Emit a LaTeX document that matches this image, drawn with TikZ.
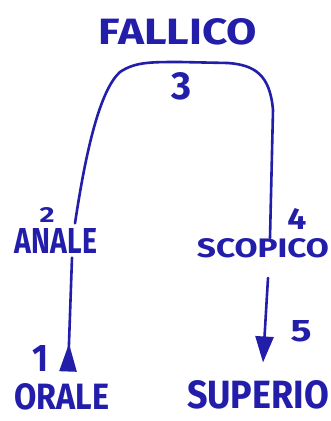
\documentclass[tikz,border=0pt]{standalone}
\usepackage{fontspec}
\setmainfont{Fira Sans}
\usetikzlibrary{arrows.meta}
\definecolor{pen}{RGB}{35,30,170}
\tikzset{
  lbl/.style={text=pen,inner sep=0pt,font=\bfseries},
  pencil/.style={draw=pen,line width=2.6pt,line cap=round,line join=round},
}
\newcommand{\fit}[3]{\resizebox{#1pt}{#2pt}{#3}}
\begin{document}
\begin{tikzpicture}[x=1pt,y=-1pt]
\useasboundingbox[fill=white] (0,0) rectangle (330,421);
% words
\node[lbl] (fallico) at (178,32) {\fit{158}{26}{FALLICO}};
\node[lbl] (anale)   at (56,241) {\fit{82}{25}{ANALE}};
\node[lbl] (scopico) at (263,248) {\fit{132}{19}{SCOPICO}};
\node[lbl] (orale)   at (62,397) {\fit{95}{26}{ORALE}};
\node[lbl] (superio) at (258,395) {\fit{142}{28}{SUPERIO}};
% numbers
\node[lbl] (n1) at (41,358) {\fit{16}{26}{1}};
\node[lbl] (n2) at (47,215) {\fit{15}{15}{2}};
\node[lbl] (n3) at (182,86) {\fit{20}{27}{3}};
\node[lbl] (n4) at (297,219) {\fit{19}{21}{4}};
\node[lbl] (n5) at (301,331) {\fit{21}{21}{5}};
% connectors
\draw[pencil,{Triangle[reversed,length=28pt,width=17pt]}-]
  ([xshift=6pt,yshift=12pt]orale.north) -- ([xshift=16pt,yshift=-4pt]anale.south);
\draw[pencil]
  ([xshift=19pt,yshift=5pt]anale.north)
  .. controls (86,150) and (100,90) .. (120,72)
  .. controls (135,62) and (150,62) .. (180,62)
  -- (228,63)
  .. controls (255,65) and (270,75) .. (273,110)
  -- ([xshift=7pt]scopico.north);
\draw[pencil,-{Triangle[length=26pt,width=18pt]}]
  ([xshift=5pt,yshift=-20pt]scopico.south) -- ([xshift=5pt,yshift=18pt]superio.north);
\end{tikzpicture}
\end{document}
